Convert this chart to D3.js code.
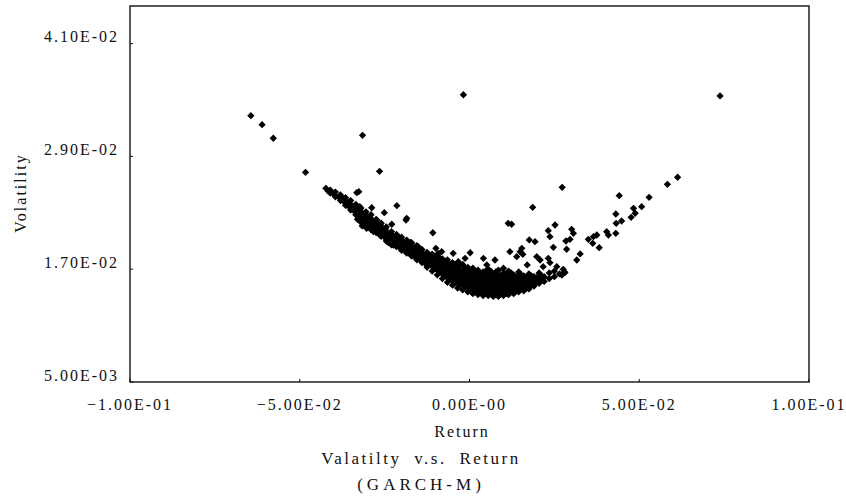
<!DOCTYPE html>
<html>
<head>
<meta charset="utf-8">
<script src="https://cdn.jsdelivr.net/npm/d3@7"></script>
<style>
  body { margin: 0; background: #fff; }
  text { font-family: "Liberation Serif", "DejaVu Serif", "Times New Roman", serif; fill: #111; }
</style>
</head>
<body>
<div id="chart"></div>
<script>
// AXIS TICKS
const xTicks = [-0.1, -0.05, 0, 0.05, 0.1];
const xTickLabels = ["\u22121.00E-01", "\u22125.00E-02", "0.00E-00", "5.00E-02", "1.00E-01"];
const yTicks = [0.005, 0.017, 0.029, 0.041];
const yTickLabels = ["5.00E-03", "1.70E-02", "2.90E-02", "4.10E-02"];

// ISOLATED POINTS ON BOTH WINGS [return, volatility]
const tailPoints = [
  [-0.0644, 0.03333], [-0.0611, 0.03237], [-0.0578, 0.03093], [-0.0483, 0.02731],
  [-0.0315, 0.03124], [-0.0265, 0.02741], [-0.0018, 0.03556], [0.0738, 0.03543],
  [0.0613, 0.02678], [0.0583, 0.02603], [0.0273, 0.02571], [0.0441, 0.02482],
  [0.0529, 0.02465], [0.0507, 0.02365], [0.0483, 0.02348], [0.0488, 0.02295],
  [0.0476, 0.02252], [0.0431, 0.02287], [0.0448, 0.02213], [0.0432, 0.02188],
  [0.0431, 0.02082], [0.0404, 0.02099], [0.0409, 0.02064], [0.0375, 0.02064],
  [0.0365, 0.02046], [0.0350, 0.02018], [0.0363, 0.01975], [0.0382, 0.01929],
  [0.0301, 0.02124], [0.0306, 0.02082], [0.0284, 0.02000], [0.0296, 0.02018],
  [0.0286, 0.01912], [0.0326, 0.01862], [0.0316, 0.01798], [0.0276, 0.01699],
  [0.0281, 0.01663], [0.0272, 0.01638]
];

// SCATTER ABOVE THE DENSE BAND [return, volatility]
const upperPoints = [
  [0.0186, 0.02358], [0.0114, 0.02188], [0.0124, 0.02178], [0.0252, 0.02170],
  [0.0232, 0.02110], [0.0237, 0.02046], [0.0176, 0.02011], [0.0193, 0.01993],
  [0.0247, 0.01933], [0.0154, 0.01922], [0.0149, 0.01886], [0.0157, 0.01858],
  [0.0119, 0.01886], [0.0139, 0.01833], [0.0198, 0.01833], [0.0208, 0.01798],
  [0.0232, 0.01816], [0.0237, 0.01769], [0.0002, 0.01875], [-0.0048, 0.01869],
  [-0.0082, 0.01886], [-0.0013, 0.01816], [0.0041, 0.01816], [0.0075, 0.01798],
  [0.0217, 0.01727], [0.0257, 0.01727], [0.0170, 0.01745], [0.0100, 0.01710],
  [0.0051, 0.01745], [-0.0033, 0.01780], [-0.0185, 0.02241], [-0.0332, 0.02514],
  [-0.0401, 0.02507], [-0.0381, 0.02479], [-0.0214, 0.02376], [-0.0288, 0.02354],
  [-0.0251, 0.02301], [-0.0352, 0.02372], [-0.0337, 0.02330], [-0.0323, 0.02365],
  [-0.0187, 0.02223], [-0.0229, 0.02178], [-0.0273, 0.02223], [-0.0283, 0.02188],
  [-0.0108, 0.02088], [-0.0208, 0.02039], [-0.0173, 0.01986], [-0.0151, 0.01939],
  [-0.0146, 0.01912], [-0.0099, 0.01922], [-0.0092, 0.01869], [-0.0121, 0.01833],
  [-0.0234, 0.02074], [-0.0362, 0.02383], [-0.0423, 0.02560], [-0.0416, 0.02530],
  [-0.0326, 0.02525]
];

// POINTS STICKING OUT BELOW THE LEFT HALF OF THE BAND [return, volatility]
const lowerEdgePoints = [
  [-0.0330, 0.02231], [-0.0316, 0.02160], [-0.0303, 0.02135], [-0.0283, 0.02099],
  [-0.0264, 0.02064], [-0.0239, 0.01982], [-0.0224, 0.01957]
];

// DENSE BAND: each column is [return, [volatilities...]]
const coreColumns = [
  [-0.0410, [0.0251, 0.0254]],
  [-0.0395, [0.0247, 0.0252]],
  [-0.0380, [0.0243, 0.0249]],
  [-0.0365, [0.0238, 0.0242, 0.0246]],
  [-0.0350, [0.0233, 0.0238, 0.0243]],
  [-0.0335, [0.0228, 0.0234, 0.0239]],
  [-0.0320, [0.0220, 0.0225, 0.0231, 0.0235]],
  [-0.0305, [0.0215, 0.0221, 0.0226, 0.0231]],
  [-0.0290, [0.0212, 0.0217, 0.0223, 0.0228]],
  [-0.0275, [0.0209, 0.0214, 0.0219, 0.0223]],
  [-0.0260, [0.0205, 0.0210, 0.0215, 0.0219]],
  [-0.0245, [0.0200, 0.0205, 0.0210, 0.0215]],
  [-0.0230, [0.0196, 0.0201, 0.0206, 0.0210]],
  [-0.0215, [0.0194, 0.0198, 0.0203, 0.0207]],
  [-0.0200, [0.0190, 0.0195, 0.0200, 0.0204]],
  [-0.0185, [0.0187, 0.0192, 0.0197, 0.0201]],
  [-0.0170, [0.0184, 0.0189, 0.0193, 0.0198]],
  [-0.0155, [0.0180, 0.0185, 0.0190, 0.0195]],
  [-0.0140, [0.0177, 0.0182, 0.0187, 0.0191]],
  [-0.0125, [0.0172, 0.0177, 0.0182, 0.0188]],
  [-0.0110, [0.0168, 0.0173, 0.0178, 0.0182, 0.0186]],
  [-0.0095, [0.0164, 0.0169, 0.0174, 0.0179, 0.0184]],
  [-0.0080, [0.0160, 0.0165, 0.0170, 0.0175, 0.0181]],
  [-0.0065, [0.0156, 0.0161, 0.0166, 0.0171, 0.0176, 0.0180]],
  [-0.0050, [0.0153, 0.0158, 0.0163, 0.0168, 0.0173, 0.0177]],
  [-0.0035, [0.0150, 0.0155, 0.0160, 0.0165, 0.0170, 0.0176]],
  [-0.0020, [0.0148, 0.0153, 0.0158, 0.0163, 0.0168, 0.0175]],
  [-0.0005, [0.0146, 0.0151, 0.0156, 0.0161, 0.0166, 0.0172]],
  [0.0010, [0.0144, 0.0149, 0.0154, 0.0159, 0.0164, 0.0171]],
  [0.0025, [0.0143, 0.0148, 0.0153, 0.0158, 0.0163, 0.0169]],
  [0.0040, [0.0142, 0.0147, 0.0152, 0.0157, 0.0162, 0.0167]],
  [0.0055, [0.0142, 0.0146, 0.0151, 0.0156, 0.0161, 0.0166, 0.0170]],
  [0.0070, [0.0141, 0.0146, 0.0151, 0.0155, 0.0160, 0.0165]],
  [0.0085, [0.0141, 0.0146, 0.0150, 0.0155, 0.0160, 0.0164, 0.0169]],
  [0.0100, [0.0142, 0.0146, 0.0151, 0.0156, 0.0161, 0.0166]],
  [0.0115, [0.0143, 0.0147, 0.0152, 0.0157, 0.0162, 0.0168]],
  [0.0130, [0.0144, 0.0149, 0.0154, 0.0159, 0.0164]],
  [0.0145, [0.0146, 0.0151, 0.0156, 0.0161, 0.0167]],
  [0.0160, [0.0147, 0.0152, 0.0157, 0.0163]],
  [0.0175, [0.0149, 0.0154, 0.0159, 0.0165]],
  [0.0190, [0.0152, 0.0157, 0.0162]],
  [0.0205, [0.0155, 0.0160, 0.0166]],
  [0.0220, [0.0157, 0.0162]],
  [0.0235, [0.0160, 0.0166]],
  [0.0250, [0.0162, 0.0168]],
  [0.0265, [0.0165]],
  [0.0280, [0.0167]]
];

// DENSE BAND, IN-BETWEEN COLUMNS (fills the gaps of the first set)
const fillColumns = [
  [-0.03975, [0.0249]],
  [-0.03825, [0.0246]],
  [-0.03675, [0.0241, 0.0245]],
  [-0.03525, [0.0236, 0.0240]],
  [-0.03375, [0.0231, 0.0236]],
  [-0.03225, [0.0223, 0.0228, 0.0233]],
  [-0.03075, [0.0218, 0.0224, 0.0229]],
  [-0.02925, [0.0214, 0.0220, 0.0225]],
  [-0.02775, [0.0211, 0.0216, 0.0221]],
  [-0.02625, [0.0207, 0.0212, 0.0217]],
  [-0.02475, [0.0203, 0.0208, 0.0213]],
  [-0.02325, [0.0198, 0.0203, 0.0208]],
  [-0.02175, [0.0195, 0.0200, 0.0205]],
  [-0.02025, [0.0192, 0.0197, 0.0202]],
  [-0.01875, [0.0189, 0.0194, 0.0199]],
  [-0.01725, [0.0185, 0.0191, 0.0196]],
  [-0.01575, [0.0182, 0.0187, 0.0192]],
  [-0.01425, [0.0179, 0.0184, 0.0189]],
  [-0.01275, [0.0175, 0.0180, 0.0185]],
  [-0.01175, [0.0175, 0.0180, 0.0185]],
  [-0.01025, [0.0171, 0.0176, 0.0180, 0.0184]],
  [-0.00875, [0.0167, 0.0172, 0.0177, 0.0182]],
  [-0.00725, [0.0163, 0.0168, 0.0173, 0.0178]],
  [-0.00575, [0.0160, 0.0165, 0.0170, 0.0175]],
  [-0.00425, [0.0156, 0.0161, 0.0166, 0.0171, 0.0175]],
  [-0.00275, [0.0154, 0.0159, 0.0164, 0.0169, 0.0174]],
  [-0.00125, [0.0151, 0.0156, 0.0161, 0.0166, 0.0171]],
  [0.00025, [0.0149, 0.0154, 0.0159, 0.0164, 0.0169]],
  [0.00175, [0.0147, 0.0152, 0.0157, 0.0162, 0.0167]],
  [0.00325, [0.0145, 0.0150, 0.0155, 0.0160, 0.0165]],
  [0.00475, [0.0144, 0.0149, 0.0154, 0.0159, 0.0164, 0.0168]],
  [0.00625, [0.0144, 0.0149, 0.0153, 0.0158, 0.0163, 0.0168]],
  [0.00775, [0.0143, 0.0148, 0.0153, 0.0158, 0.0162, 0.0167]],
  [0.00925, [0.0144, 0.0148, 0.0153, 0.0158, 0.0163]],
  [0.01075, [0.0144, 0.0149, 0.0154, 0.0159, 0.0164]],
  [0.01225, [0.0146, 0.0151, 0.0156, 0.0161, 0.0166]],
  [0.01375, [0.0147, 0.0152, 0.0157, 0.0162]],
  [0.01525, [0.0149, 0.0154, 0.0159, 0.0164]],
  [0.01675, [0.0150, 0.0155, 0.0161]],
  [0.01825, [0.0153, 0.0158, 0.0163]],
  [0.01975, [0.0156, 0.0161]],
  [0.02125, [0.0158, 0.0163]]
];

// SIZE & FRAME
const width = 846;
const height = 504;
const plotLeft = 130, plotRight = 809, plotTop = 6, plotBottom = 382;

const svg = d3.select("#chart")
  .append("svg")
  .attr("width", width)
  .attr("height", height);

const x = d3.scaleLinear().domain([-0.1, 0.1]).range([plotLeft, plotRight]);
const y = d3.scaleLinear().domain([0.005, 0.045]).range([plotBottom, plotTop]);

// FLATTEN THE BAND COLUMNS
const corePoints = [];
coreColumns.concat(fillColumns).forEach(function (c) {
  c[1].forEach(function (v) { corePoints.push([c[0], v]); });
});
const allPoints = corePoints.concat(lowerEdgePoints, upperPoints, tailPoints);

// PLOT BOX
svg.append("rect")
  .attr("x", plotLeft)
  .attr("y", plotTop)
  .attr("width", plotRight - plotLeft)
  .attr("height", plotBottom - plotTop)
  .attr("fill", "none")
  .attr("stroke", "#111")
  .attr("stroke-width", 1.4);

// TICK MARKS (small, pointing in)
svg.selectAll(".xtick")
  .data(xTicks)
  .enter().append("line")
  .attr("x1", d => x(d)).attr("x2", d => x(d))
  .attr("y1", plotBottom).attr("y2", plotBottom - 3)
  .attr("stroke", "#111");

svg.selectAll(".ytick")
  .data(yTicks)
  .enter().append("line")
  .attr("x1", plotLeft).attr("x2", plotLeft + 3)
  .attr("y1", d => y(d)).attr("y2", d => y(d))
  .attr("stroke", "#111");

// TICK LABELS
svg.selectAll(".xlabel")
  .data(xTicks)
  .enter().append("text")
  .attr("x", d => x(d))
  .attr("y", 410)
  .attr("text-anchor", "middle")
  .style("font-size", "16px")
  .style("letter-spacing", "2px")
  .text((d, i) => xTickLabels[i]);

svg.selectAll(".ylabel")
  .data(yTicks)
  .enter().append("text")
  .attr("x", 119)
  .attr("y", d => y(d) - 1.5)
  .attr("text-anchor", "end")
  .style("font-size", "16px")
  .style("letter-spacing", "2px")
  .text((d, i) => yTickLabels[i]);

// AXIS TITLES
svg.append("text")
  .attr("x", 462)
  .attr("y", 437)
  .attr("text-anchor", "middle")
  .style("font-size", "16px")
  .style("letter-spacing", "2px")
  .text("Return");

svg.append("text")
  .attr("transform", "translate(26,193) rotate(-90)")
  .attr("text-anchor", "middle")
  .style("font-size", "16px")
  .style("letter-spacing", "2px")
  .text("Volatility");

// CAPTION
svg.append("text")
  .attr("x", 421)
  .attr("y", 464)
  .attr("text-anchor", "middle")
  .style("font-size", "17px")
  .style("letter-spacing", "2.5px")
  .style("word-spacing", "6px")
  .text("Valatilty v.s. Return");

svg.append("text")
  .attr("x", 421)
  .attr("y", 490)
  .attr("text-anchor", "middle")
  .style("font-size", "17px")
  .style("letter-spacing", "4px")
  .text("(GARCH-M)");

// POINTS
const marker = d3.symbol().type(d3.symbolDiamond2).size(34);

svg.append("g")
  .selectAll("path")
  .data(allPoints)
  .enter().append("path")
  .attr("transform", d => "translate(" + x(d[0]) + "," + y(d[1]) + ")")
  .attr("d", marker)
  .attr("fill", "#000");
</script>
</body>
</html>
